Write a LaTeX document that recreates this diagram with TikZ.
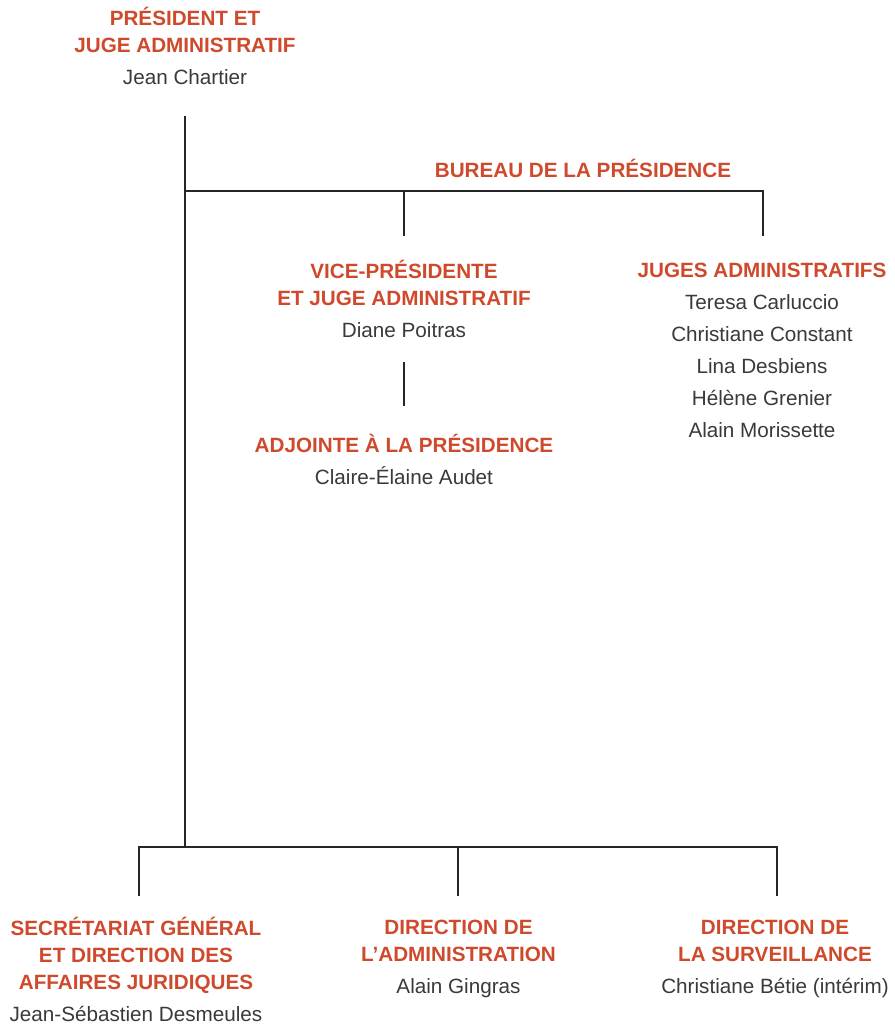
\documentclass[tikz,border=0pt]{standalone}
\usepackage{fontspec}
\setmainfont{Liberation Sans}
\definecolor{hdcol}{HTML}{CF4A2C}
\definecolor{nmcol}{HTML}{3A3A3A}
\newcommand\hdtext[1]{\textcolor{hdcol}{\bfseries #1}}
\newcommand\nmtext[1]{\textcolor{nmcol}{#1}}
\tikzset{
  blk/.style={anchor=base, align=center, inner sep=0pt, font=\fontsize{15.5}{20.25}\selectfont},
  link/.style={draw=black!85, line width=0.9pt},
}
\begin{document}
\begin{tikzpicture}[x=0.75pt,y=-0.75pt]
\useasboundingbox[fill=white] (0,0) rectangle (895,1027);
% text blocks (anchored at the baseline of their last line)
\node[blk] (pres) at (185,84.5) {\hdtext{PRÉSIDENT ET}\\\hdtext{JUGE ADMINISTRATIF}\\[3.75pt]\nmtext{Jean Chartier}};
\node[blk] (bureau) at (583,177.5) {\hdtext{BUREAU DE LA PRÉSIDENCE}};
\node[blk] (vice) at (404,337.5) {\hdtext{VICE-PRÉSIDENTE}\\\hdtext{ET JUGE ADMINISTRATIF}\\[3.75pt]\nmtext{Diane Poitras}};
\node[blk] (adj) at (404,484.5) {\hdtext{ADJOINTE À LA PRÉSIDENCE}\\[3.75pt]\nmtext{Claire-Élaine Audet}};
\node[blk] (juges) at (762,437.5) {\hdtext{JUGES ADMINISTRATIFS}\\[3.75pt]\nmtext{Teresa Carluccio}\\[3.75pt]\nmtext{Christiane Constant}\\[3.75pt]\nmtext{Lina Desbiens}\\[3.75pt]\nmtext{Hélène Grenier}\\[3.75pt]\nmtext{Alain Morissette}};
\node[blk] (sg) at (136,1021) {\hdtext{SECRÉTARIAT GÉNÉRAL}\\\hdtext{ET DIRECTION DES}\\\hdtext{AFFAIRES JURIDIQUES}\\[3.75pt]\nmtext{Jean-Sébastien Desmeules}};
\node[blk] (dadm) at (458.5,993) {\hdtext{DIRECTION DE}\\\hdtext{L’ADMINISTRATION}\\[3.75pt]\nmtext{Alain Gingras}};
\node[blk] (dsurv) at (775,993) {\hdtext{DIRECTION DE}\\\hdtext{LA SURVEILLANCE}\\[3.75pt]\nmtext{Christiane Bétie (intérim)}};
% connector points
\coordinate (ptop) at (185,116);
\coordinate (pbot) at (185,847);
\coordinate (bl) at (185,191);
\coordinate (bm) at (404,191);
\coordinate (br) at (763,191);
\coordinate (vtop) at (404,236);
\coordinate (jtop) at (763,236);
\coordinate (vbot) at (404,362);
\coordinate (atop) at (404,406);
\coordinate (dl) at (139,847);
\coordinate (dm) at (458,847);
\coordinate (dr) at (777,847);
\coordinate (sgtop) at (139,896);
\coordinate (dadmtop) at (458,896);
\coordinate (dsurvtop) at (777,896);
% connectors
\draw[link] (ptop) -- (pbot);
\draw[link] (bl) -- (br) -- (jtop);
\draw[link] (bm) -- (vtop);
\draw[link] (vbot) -- (atop);
\draw[link] (sgtop) -- (dl) -- (dr) -- (dsurvtop);
\draw[link] (dm) -- (dadmtop);
\end{tikzpicture}
\end{document}
